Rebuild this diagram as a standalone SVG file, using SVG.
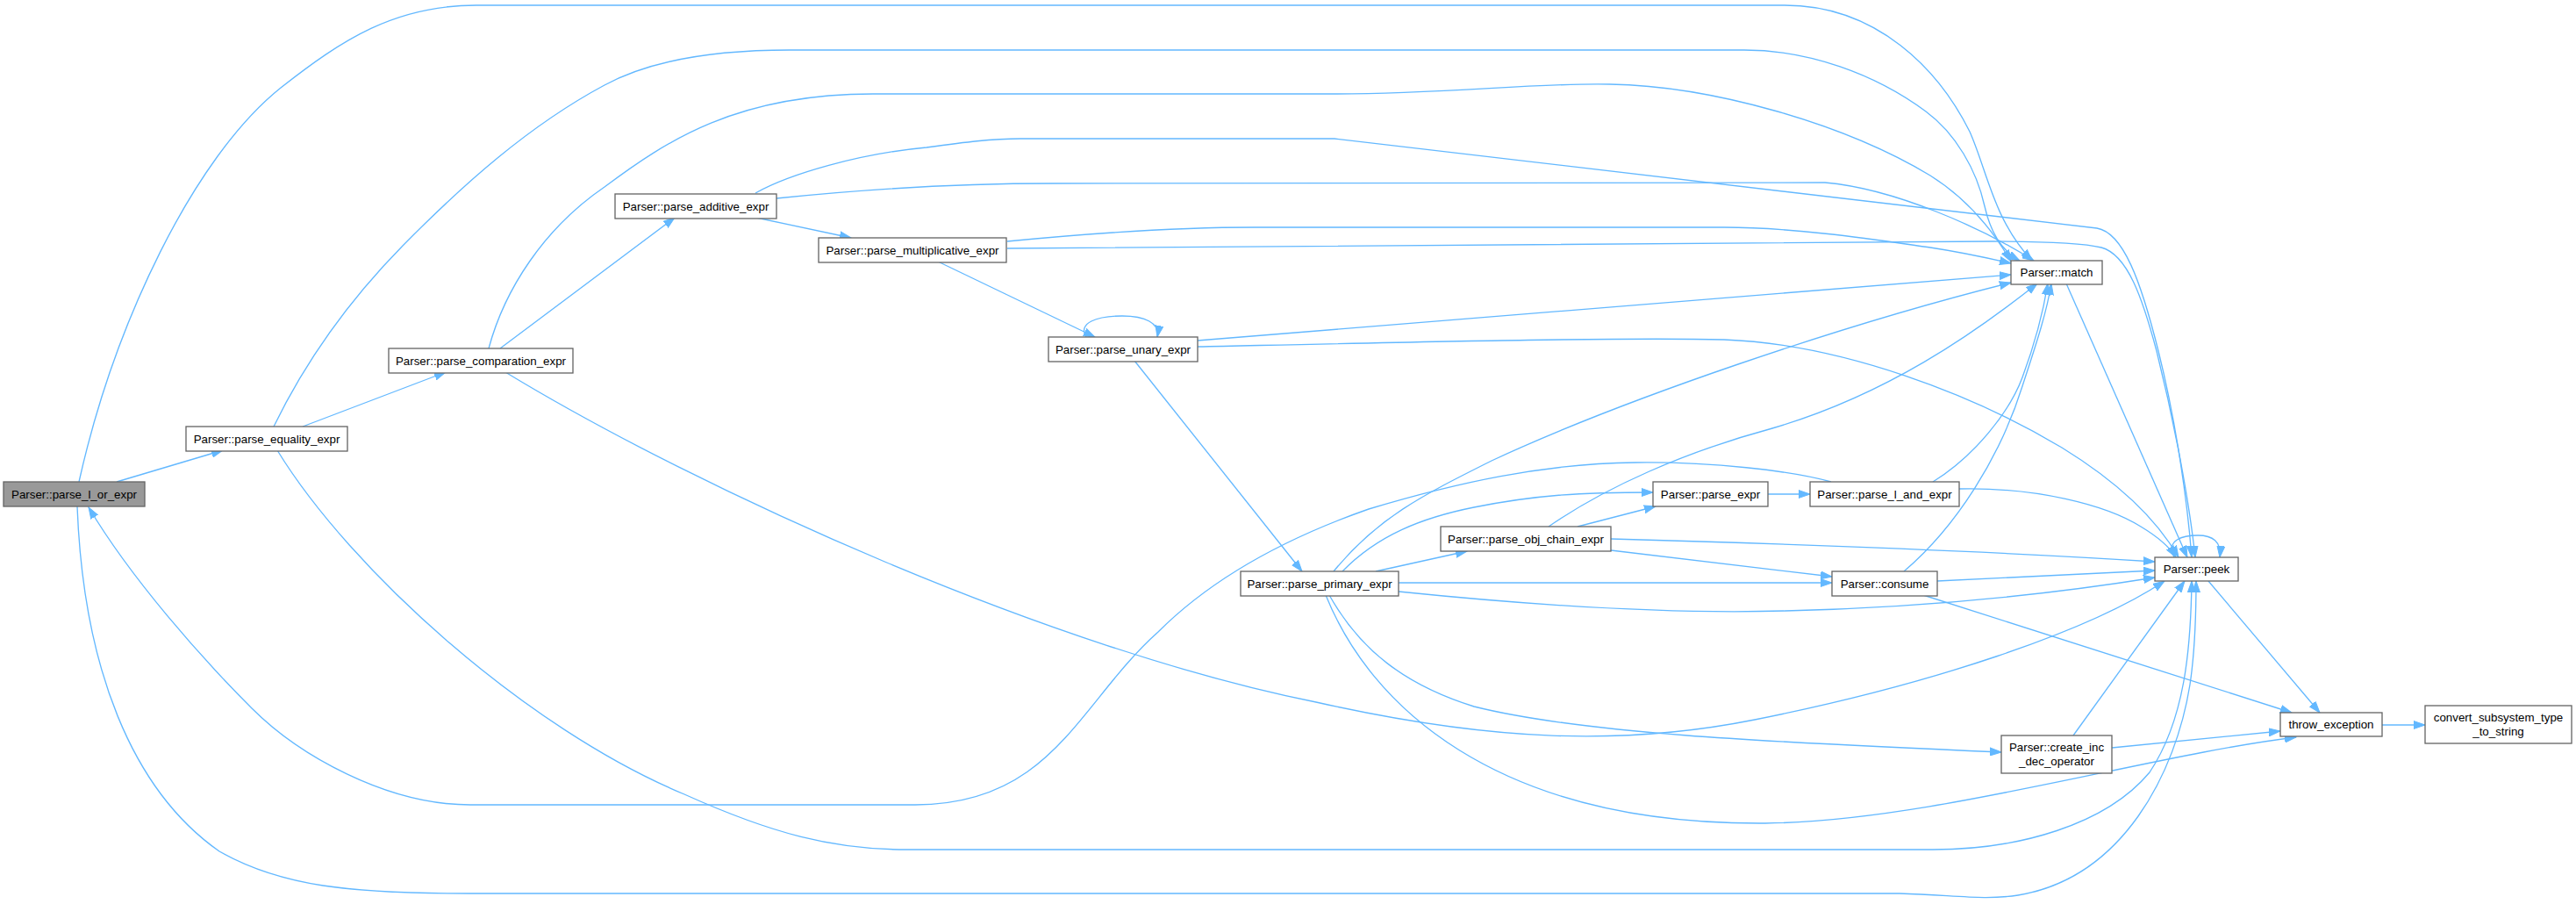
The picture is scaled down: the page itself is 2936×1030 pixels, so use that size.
<svg xmlns="http://www.w3.org/2000/svg" width="2936" height="1030" viewBox="0 0 2936 1030">
<style>
  .bg{fill:#ffffff}
  .node rect{fill:#ffffff;stroke:#666666;stroke-width:1.33}
  .node.root rect{fill:#999999}
  .node text{font-family:"Liberation Sans",Arial,Helvetica,sans-serif;font-size:13.33px;fill:#000000;text-anchor:middle}
  .edges path{fill:none;stroke:#63b8ff;stroke-width:1.33;marker-end:url(#ah)}
</style>
<defs>
  <marker id="ah" markerWidth="14" markerHeight="10" refX="13" refY="5" orient="auto" markerUnits="userSpaceOnUse">
    <path d="M0,0.5 L13,5 L0,9.5 Z" fill="#63b8ff" stroke="#63b8ff" stroke-width="1"/>
  </marker>
</defs>
<rect class="bg" x="0" y="0" width="2936" height="1030"/>
<g id="edges" class="edges">
  <path id="e1" d="M133,549 L254,513"/>
  <path id="e2" d="M90,549 C130,370 220,180 320,100 C390,45 450,6 543,6 L2034,6 C2140,6 2210,80 2245,150 C2265,195 2272,250 2316,297"/>
  <path id="e3" d="M88,577 C95,760 150,900 250,970 C320,1010 400,1018 536,1018 L2165,1018 C2230,1020 2260,1026 2300,1020 C2420,1000 2480,880 2496,780 C2502,740 2503,700 2503,662"/>
  <path id="e4" d="M345,486 L508,424"/>
  <path id="e5" d="M312,486 C349,410 400,340 459,280 C528,210 603,143 689,97 C733,73 800,57 900,57 L1988,57 C2061,57 2137,84 2195,127 C2229,152 2253,194 2262,235 C2268,262 2280,285 2302,297"/>
  <path id="e6" d="M316,513 C400,650 600,830 780,905 C880,950 950,968 1033,968 L2203,968 C2300,968 2400,940 2450,880 C2490,820 2497,740 2498,662"/>
  <path id="e7" d="M570,397 L769,248"/>
  <path id="e8" d="M557,397 C575,330 620,260 689,213 C760,160 840,107 995,107 L1521,107 C1650,107 1750,94 1835,96 C1950,98 2100,140 2200,200 C2240,225 2270,260 2292,298"/>
  <path id="e9" d="M576,424 C800,560 1200,740 1500,800 C1700,845 1850,850 2000,820 C2200,780 2380,720 2467,662"/>
  <path id="e10" d="M862,248 L970,271"/>
  <path id="e11" d="M885,226 C1000,214 1100,209 1200,209 L2080,208 C2160,215 2260,260 2318,297"/>
  <path id="e12" d="M861,220 C900,198 980,175 1056,168 C1100,162 1130,158 1163,158 L1521,158 L2390,260 C2420,265 2440,320 2460,400 C2480,480 2493,570 2498,635"/>
  <path id="e13" d="M1069,298 L1248,384"/>
  <path id="e14" d="M1148,275 C1250,265 1350,259 1430,259 L1965,259 C2050,259 2150,275 2200,282 C2240,288 2270,295 2292,300"/>
  <path id="e15" d="M1148,283 L2271,275 C2340,275 2375,277 2395,282 C2425,290 2442,340 2458,400 C2478,480 2495,570 2502,635"/>
  <path id="e16" d="M1238,384 C1228,368 1250,360 1279,360 C1305,360 1322,368 1319,384"/>
  <path id="e17" d="M1293,411 L1484,651"/>
  <path id="e18" d="M1365,388 L2292,313"/>
  <path id="e19" d="M1365,395 C1600,390 1850,384 1965,387 C2100,392 2250,450 2350,510 C2420,553 2460,595 2483,635"/>
  <path id="e20" d="M1530,651 C1570,610 1620,590 1680,578 C1750,564 1800,561 1884,561"/>
  <path id="e21" d="M1568,651 L1672,628"/>
  <path id="e22" d="M1594,664 L2088,664"/>
  <path id="e23" d="M1594,674 C1750,690 1900,700 2035,696 C2200,692 2350,675 2456,658"/>
  <path id="e24" d="M1520,651 C1570,590 1620,565 1700,525 C1850,455 2100,370 2292,322"/>
  <path id="e25" d="M1515,678 C1550,740 1600,780 1680,805 C1800,835 2000,845 2281,857"/>
  <path id="e26" d="M1511,678 C1560,800 1700,940 2012,938 C2200,936 2450,860 2617,840"/>
  <path id="e27" d="M2015,563 L2063,563"/>
  <path id="e28" d="M2087,549 C2040,536 1950,526 1864,527 C1760,528 1660,550 1560,580 C1460,615 1380,660 1320,720 C1230,800 1200,917 1043,917 L536,917 C440,917 340,860 287,807 C230,750 150,660 101,578"/>
  <path id="e29" d="M1798,600 L1887,577"/>
  <path id="e30" d="M1765,600 C1830,555 1920,515 2020,488 C2150,450 2250,380 2322,323"/>
  <path id="e31" d="M1836,614 C2050,620 2300,630 2456,640"/>
  <path id="e32" d="M1836,627 L2088,657"/>
  <path id="e33" d="M2203,549 C2250,520 2290,470 2305,430 C2318,395 2328,360 2334,323"/>
  <path id="e34" d="M2233,557 C2320,555 2400,575 2440,600 C2460,612 2472,622 2480,635"/>
  <path id="e35" d="M2170,651 C2230,600 2280,520 2305,440 C2318,400 2332,360 2338,323"/>
  <path id="e36" d="M2208,662 L2456,650"/>
  <path id="e37" d="M2192,678 L2612,812"/>
  <path id="e38" d="M2355,323 L2493,635"/>
  <path id="e39" d="M2478,635 C2468,615 2488,610 2505,610 C2522,610 2532,617 2530,635"/>
  <path id="e40" d="M2517,662 L2644,812"/>
  <path id="e41" d="M2363,838 L2490,662"/>
  <path id="e42" d="M2407,852 L2599,833"/>
  <path id="e43" d="M2715,826 L2764,826"/>
</g>
<g id="n_parse_l_or_expr" class="node root"><rect x="4" y="549" width="161" height="28"/><text x="84.5" y="567.5">Parser::parse_l_or_expr</text></g>
<g id="n_parse_equality_expr" class="node"><rect x="212" y="486" width="184" height="28"/><text x="304" y="504.5">Parser::parse_equality_expr</text></g>
<g id="n_parse_comparation_expr" class="node"><rect x="443" y="397" width="210" height="28"/><text x="548" y="415.5">Parser::parse_comparation_expr</text></g>
<g id="n_parse_additive_expr" class="node"><rect x="701" y="221" width="184" height="28"/><text x="793" y="239.5">Parser::parse_additive_expr</text></g>
<g id="n_parse_multiplicative_expr" class="node"><rect x="933" y="271" width="214" height="28"/><text x="1040" y="289.5">Parser::parse_multiplicative_expr</text></g>
<g id="n_parse_unary_expr" class="node"><rect x="1195" y="384" width="170" height="28"/><text x="1280" y="402.5">Parser::parse_unary_expr</text></g>
<g id="n_parse_primary_expr" class="node"><rect x="1414" y="651" width="180" height="28"/><text x="1504" y="669.5">Parser::parse_primary_expr</text></g>
<g id="n_parse_obj_chain_expr" class="node"><rect x="1642" y="600" width="194" height="28"/><text x="1739" y="618.5">Parser::parse_obj_chain_expr</text></g>
<g id="n_parse_expr" class="node"><rect x="1884" y="549" width="131" height="28"/><text x="1949.5" y="567.5">Parser::parse_expr</text></g>
<g id="n_parse_l_and_expr" class="node"><rect x="2063" y="549" width="170" height="28"/><text x="2148" y="567.5">Parser::parse_l_and_expr</text></g>
<g id="n_consume" class="node"><rect x="2088" y="651" width="120" height="28"/><text x="2148" y="669.5">Parser::consume</text></g>
<g id="n_match" class="node"><rect x="2292" y="297" width="104" height="27"/><text x="2344" y="315">Parser::match</text></g>
<g id="n_peek" class="node"><rect x="2456" y="635" width="95" height="27"/><text x="2503.5" y="653">Parser::peek</text></g>
<g id="n_create_inc_dec_operator" class="node"><rect x="2281" y="838" width="126" height="43"/><text x="2344" y="856">Parser::create_inc</text><text x="2344" y="872">_dec_operator</text></g>
<g id="n_throw_exception" class="node"><rect x="2599" y="812" width="116" height="27"/><text x="2657" y="830">throw_exception</text></g>
<g id="n_convert_subsystem_type_to_string" class="node"><rect x="2764" y="804" width="167" height="43"/><text x="2847.5" y="822">convert_subsystem_type</text><text x="2847.5" y="838">_to_string</text></g>
</svg>
